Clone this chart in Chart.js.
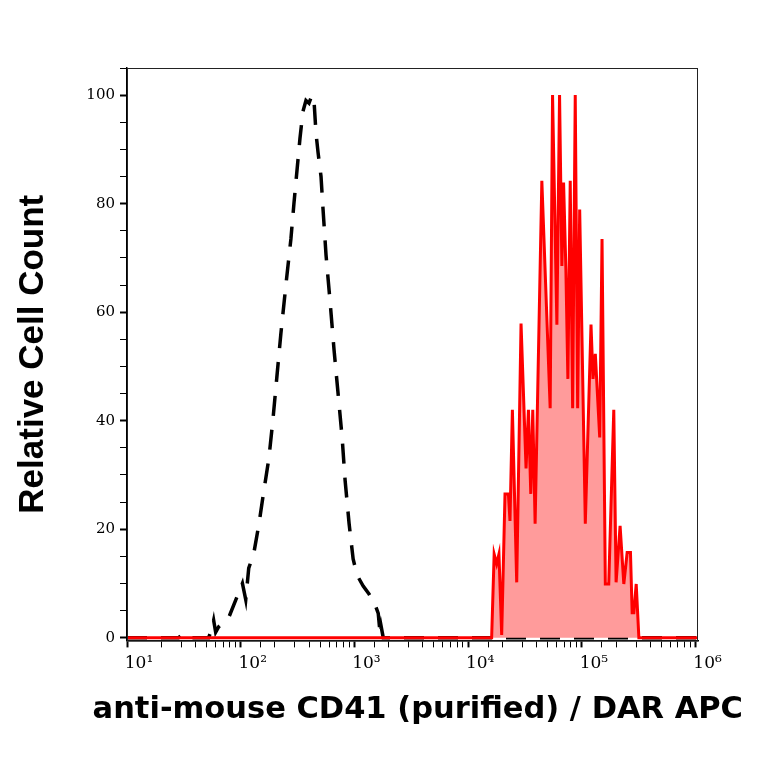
<!DOCTYPE html>
<html>
<head>
<meta charset="utf-8">
<script src="https://cdn.jsdelivr.net/npm/chart.js@4.4.1/dist/chart.umd.min.js"></script>
<style>
  html, body { margin: 0; padding: 0; background: #fff; }
  #wrap { width: 764px; height: 764px; }
</style>
</head>
<body>
<div id="wrap"><canvas id="histChart" width="764" height="764"></canvas></div>
<script>
// unstained control (black dashed)
var controlX = [10, 28.4, 31.4, 34.8, 52.2, 55.5, 57.8, 60.2, 63.9, 78.4, 93.5, 103.5, 110.7, 117.6, 130.2, 144.2, 159.6, 176.7, 191.6, 207.8, 225.4, 249.6, 276.3, 293.7, 312.1, 331.8, 352.6, 374.8, 398.4, 423.4, 441, 459.2, 478.3, 508.3, 529.4, 562.7, 610.3, 662, 718, 778.7, 827.8, 897.8, 973.9, 1056, 1194, 1348, 1523, 1619, 1686, 1720, 1792, 1050000];
var controlY = [0, 0, 0.7, 0, 0, 1.5, 3.2, 1, 2, 3.7, 7.7, 10, 7, 12.8, 15.5, 20.8, 27, 33, 40, 48, 56, 65, 73.5, 80, 86, 92, 97, 99, 98.5, 100, 99, 93, 89.5, 85, 79, 70.5, 62, 53, 45, 37, 29, 21, 14.5, 11.5, 9.5, 8, 6, 4.5, 0.5, 2, 0, 0];

// stained sample (red filled)
var stainedX = [10, 16090, 16930, 17810, 18660, 19720, 21090, 22590, 23330, 24490, 26730, 29180, 32290, 33900, 35540, 37000, 38800, 44460, 52630, 55230, 60290, 63640, 66720, 69050, 72330, 75330, 79000, 82920, 87440, 91830, 95660, 107200, 120300, 125300, 131300, 143500, 150400, 160800, 172300, 190800, 200000, 216800, 233800, 250100, 267500, 276800, 286500, 300500, 317100, 1050000];
var stainedY = [0, 0, 15.4, 13.6, 15.4, 0.5, 26.5, 26.5, 21.5, 42, 10.2, 57.9, 31.2, 42, 26.5, 42, 21, 84.2, 42.3, 100, 57.7, 100, 68.5, 83.9, 68, 47.7, 84.2, 42.3, 100, 42.3, 78.9, 21, 57.7, 47.7, 52.3, 36.9, 73.5, 9.9, 9.9, 42, 10.2, 20.6, 9.9, 15.7, 15.7, 4.6, 4.6, 9.9, 0, 0];

var decadeLabels = ['10\u00B9', '10\u00B2', '10\u00B3', '10\u2074', '10\u2075', '10\u2076'];
var yLabels = [0, 20, 40, 60, 80, 100];

function toPoints(xs, ys) {
    return xs.map(function (x, i) { return { x: x, y: ys[i] }; });
}

function isDecade(v) {
    var l = Math.log10(v);
    return Math.abs(l - Math.round(l)) < 1e-9;
}

var frame = {
    id: 'frame',
    afterDraw: function (chart) {
        var a = chart.chartArea, ctx = chart.ctx;
        ctx.save();
        ctx.strokeStyle = '#222';
        ctx.lineWidth = 1;
        ctx.strokeRect(a.left + 0.5, a.top + 0.5, a.right - a.left - 1, a.bottom - a.top);
        ctx.restore();
    }
};

var ctx = document.getElementById('histChart').getContext('2d');
var chart = new Chart(ctx, {
    type: 'line',
    data: {
        datasets: [{
            label: 'CD41',
            data: toPoints(stainedX, stainedY),
            borderColor: '#ff0000',
            backgroundColor: '#ff9b9b',
            borderWidth: 3,
            pointRadius: 0,
            tension: 0,
            fill: 'origin'
        }, {
            label: 'control',
            data: toPoints(controlX, controlY),
            borderColor: '#000',
            borderWidth: 3.5,
            borderDash: [20, 14],
            pointRadius: 0,
            tension: 0,
            fill: false
        }]
    },
    options: {
        responsive: false,
        animation: false,
        devicePixelRatio: 1,
        layout: { padding: { top: 68, right: 21, left: 0, bottom: 0 } },
        plugins: {
            legend: { display: false },
            tooltip: { enabled: false },
            // x axis title as chart title, so it is not squeezed to the plot width
            title: {
                display: true,
                position: 'bottom',
                align: 'end',
                text: 'anti-mouse CD41 (purified) / DAR APC',
                color: '#000',
                font: { family: "'DejaVu Sans', Verdana, sans-serif", weight: 'bold', size: 30.5 },
                padding: { top: 0, bottom: 36 }
            }
        },
        scales: {
            x: {
                type: 'logarithmic',
                min: 10,
                max: 1050000,
                afterFit: function (s) { s.height = 51; },
                afterBuildTicks: function (s) {
                    s.ticks = s.ticks.filter(function (t) { return t.value <= 1000000; });
                },
                border: { display: true, color: '#000', width: 1.5 },
                grid: {
                    drawOnChartArea: false,
                    drawTicks: true,
                    tickLength: 7,
                    tickColor: '#000',
                    tickWidth: function (c) { return c.tick && isDecade(c.tick.value) ? 2 : 1; }
                },
                ticks: {
                    autoSkip: false,
                    maxRotation: 0,
                    padding: 6,
                    labelOffset: 12,
                    color: '#000',
                    font: { family: "'DejaVu Serif'", size: 17 },
                    callback: function (v) {
                        if (!isDecade(v)) return '';
                        return decadeLabels[Math.round(Math.log10(v)) - 1];
                    }
                }
            },
            y: {
                min: -0.5,
                max: 105,
                afterFit: function (s) { s.width = 127; },
                border: { display: true, color: '#000', width: 1.5 },
                grid: {
                    drawOnChartArea: false,
                    drawTicks: true,
                    tickLength: 7,
                    tickColor: '#000',
                    tickWidth: function (c) { return c.tick && yLabels.indexOf(c.tick.value) >= 0 ? 2 : 1; }
                },
                ticks: {
                    stepSize: 5,
                    includeBounds: false,
                    autoSkip: false,
                    padding: 5,
                    color: '#000',
                    font: { family: "'DejaVu Serif'", size: 15 },
                    callback: function (v) { return yLabels.indexOf(v) >= 0 ? String(v) : ''; }
                },
                title: {
                    display: true,
                    text: 'Relative Cell Count',
                    color: '#000',
                    font: { family: "'Liberation Sans', Arial, sans-serif", weight: 'bold', size: 35 },
                    padding: { top: 12, bottom: 0 }
                }
            },
            // empty right-hand spacer so the plot ends where the original does
            yRight: {
                position: 'right',
                afterFit: function (s) { s.width = 45; },
                grid: { display: false },
                border: { display: false },
                ticks: { display: false }
            }
        }
    },
    plugins: [frame]
});
</script>
</body>
</html>
